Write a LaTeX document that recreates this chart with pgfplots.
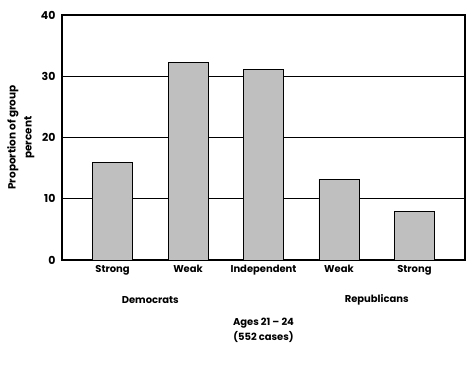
\documentclass[border=0pt]{standalone}
\usepackage{pgfplots}
\pgfplotsset{compat=1.18}
\usepackage{fontspec}
\setmainfont{Poppins}
\begin{document}
\begin{tikzpicture}
\useasboundingbox (-62bp,-107bp) rectangle (413bp,260bp);
\begin{axis}[
  at={(0,0)}, anchor=south west,
  scale only axis, width=403bp, height=245bp,
  ymin=0, ymax=40, ytick={0,10,20,30,40},
  xmin=-0.67, xmax=4.67,
  xtick={0,1,2,3,4},
  xticklabels={Strong,Weak,Independent,Weak,Strong},
  major tick length=0pt,
  ymajorgrids, grid style={black, line width=0.8pt},
  axis line style={line width=1.1pt},
  /pgf/number format/assume math mode=true,
  tick label style={font=\fontsize{10}{11}\selectfont\bfseries},
  yticklabel style={xshift=-3bp, font=\fontsize{11}{12}\selectfont\bfseries},
  xticklabel style={yshift=-2bp},
  ylabel={Proportion of group\\percent},
  ylabel style={at={(axis description cs:-0.102,0.5)}, anchor=center, align=center, font=\fontsize{10.5}{16}\selectfont\bfseries},
  clip=false,
  axis on top=false,
]
\addplot[ybar, bar width=40bp, fill=black!25, draw=black, line width=0.9pt, bar shift=0pt]
  coordinates {(0,16.0) (1,32.3) (2,31.1) (3,13.2) (4,8.0)};
\node[font=\fontsize{10}{11}\selectfont\bfseries] at (axis cs:0.5,0) [yshift=-40bp] {Democrats};
\node[font=\fontsize{10}{11}\selectfont\bfseries] at (axis cs:3.5,0) [yshift=-40bp] {Republicans};
\node[font=\fontsize{10}{15}\selectfont\bfseries, align=center] at (axis cs:2,0) [yshift=-70bp] {Ages 21 -- 24\\(552 cases)};
\end{axis}
\end{tikzpicture}
\end{document}
